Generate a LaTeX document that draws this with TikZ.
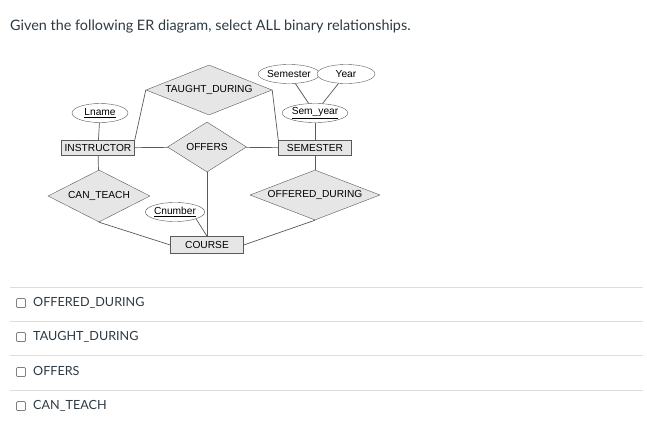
\documentclass[tikz,border=0pt]{standalone}
\usepackage{fontspec}
\setmainfont{Lato}
\newfontfamily\diagfont{Liberation Sans}
\usetikzlibrary{shapes.geometric}
\definecolor{canvastext}{HTML}{2D3B45}
\definecolor{erfill}{HTML}{E6E6E6}
\definecolor{erline}{HTML}{5A5A5A}
\definecolor{rulegray}{HTML}{DDDDDD}
\tikzset{
  entity/.style={rectangle,draw=erline,fill=erfill,minimum width=73,minimum height=15,inner sep=0,font=\diagfont\fontsize{10.2}{12}\selectfont},
  relation/.style={diamond,draw=erline,fill=erfill,aspect=2.5,inner sep=0,font=\diagfont\fontsize{10.2}{12}\selectfont},
  attrib/.style={ellipse,draw=erline,fill=white,minimum height=19,inner sep=0,font=\diagfont\fontsize{10.2}{12}\selectfont},
  erlink/.style={draw=erline,line width=0.7pt},
  choice/.style={anchor=base west,text=canvastext,font=\fontsize{12.6}{15}\selectfont,inner sep=0},
  tickbox/.style={rectangle,rounded corners=1,draw=gray,line width=0.7pt,minimum size=9,inner sep=0}
}
\begin{document}
\begin{tikzpicture}[x=1pt,y=-1pt]
\useasboundingbox[fill=white] (0,0) rectangle (647,434);

\node[anchor=base west,text=canvastext,font=\fontsize{14.4}{17}\selectfont,inner sep=0] (question) at (10,30.5) {Given the following ER diagram, select ALL binary relationships.};

% entities
\node[entity] (instr)  at (98,148)  {INSTRUCTOR};
\node[entity] (sem)    at (315,148) {SEMESTER};
\node[entity,minimum height=17] (course) at (207,245) {COURSE};

% relationships
\node[relation,minimum width=126,minimum height=50] (taught)   at (209,90)  {TAUGHT\_DURING};
\node[relation,minimum width=79,minimum height=50]  (offers)   at (207,147) {OFFERS};
\node[relation,minimum width=102,minimum height=52] (canteach) at (99,196)  {CAN\_TEACH};
\node[relation,minimum width=130,minimum height=50] (offdur)   at (315,195) {OFFERED\_DURING};

% attributes
\node[attrib,minimum width=56] (lname)    at (100,113) {\underline{Lname}};
\node[attrib,minimum width=54] (semattr)  at (289,74)  {Semester};
\node[attrib,minimum width=58] (year)     at (346,74)  {Year};
\node[attrib,minimum width=57] (semyear)  at (315,113) {\underline{Sem\_year}};
\node[attrib,minimum width=58] (cnum)     at (175,212) {\underline{Cnumber}};

% links
\draw[erlink] (lname) -- (instr);
\draw[erlink] (instr.north east) -- (taught.west);
\draw[erlink] (taught.east) -- (sem.north west);
\draw[erlink] (instr) -- (offers) -- (sem);
\draw[erlink] (offers) -- (course);
\draw[erlink] (semattr) -- (semyear);
\draw[erlink] (year) -- (semyear);
\draw[erlink] (semyear) -- (sem);
\draw[erlink] (sem) -- (offdur);
\draw[erlink] (instr) -- (canteach);
\draw[erlink] (canteach.south) -- (course.west);
\draw[erlink] (offdur.south) -- (course.east);
\draw[erlink] (cnum.south east) -- (course.north);

% answer choices
\foreach \y in {287,321,355,390}
  \draw[rulegray,line width=0.8pt] (10,\y) -- (643,\y);
\node[tickbox] (box1) at (21,303) {};
\node[tickbox] (box2) at (21,337) {};
\node[tickbox] (box3) at (21,372) {};
\node[tickbox] (box4) at (21,406) {};
\node[choice] (opt1) at (33,306.5) {OFFERED\_DURING};
\node[choice] (opt2) at (33,340.5) {TAUGHT\_DURING};
\node[choice] (opt3) at (33,375.5) {OFFERS};
\node[choice] (opt4) at (33,409.5) {CAN\_TEACH};

\end{tikzpicture}
\end{document}
